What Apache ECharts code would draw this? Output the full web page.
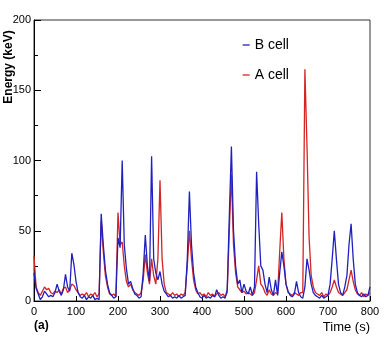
<!DOCTYPE html>
<html style="height: 100%">
<head>
    <meta charset="utf-8">
</head>
<body style="height: 100%; margin: 0; background: #fff">
    <div id="container" style="width: 384px; height: 346px"></div>
    <script type="text/javascript" src="https://cdn.jsdelivr.net/npm/echarts@6/dist/echarts.min.js"></script>
    <script type="text/javascript">
        // sample times (s), one every 5 s
        var times = [];
        for (var t = 0; t <= 800; t += 5) times.push(t);

        // B cell (blue), 20 values per 100 s
        var bCell = [
            20, 9, 5, 1, 3, 7, 5, 3, 4, 3, 6, 12, 7, 4, 8, 19, 10, 7, 34, 26,
            14, 6, 3, 2, 4, 1, 3, 2, 4, 1, 2, 1, 62, 40, 22, 12, 6, 4, 2, 3,
            45, 38, 100, 40, 23, 12, 14, 9, 5, 4, 2, 3, 20, 47, 25, 14, 103, 30, 20, 15,
            21, 12, 7, 5, 3, 4, 2, 3, 2, 4, 2, 3, 4, 30, 78, 40, 20, 10, 6, 3,
            2, 4, 2, 3, 2, 4, 3, 8, 4, 2, 3, 2, 8, 60, 110, 50, 25, 12, 15, 6,
            12, 7, 5, 10, 4, 10, 92, 55, 25, 22, 12, 6, 17, 8, 4, 15, 4, 20, 35, 25,
            12, 7, 4, 3, 5, 14, 6, 3, 2, 10, 30, 22, 12, 6, 4, 3, 2, 4, 2, 3,
            4, 12, 30, 50, 30, 12, 6, 4, 10, 18, 40, 55, 30, 12, 6, 4, 3, 5, 3, 4,
            10
        ];

        // A cell (red)
        var aCell = [
            32, 10, 6, 4, 7, 10, 8, 9, 6, 5, 7, 6, 8, 5, 9, 10, 6, 8, 12, 11,
            8, 6, 4, 5, 4, 6, 3, 5, 4, 6, 3, 5, 57, 35, 18, 10, 5, 4, 5, 3,
            63, 40, 42, 25, 14, 10, 12, 8, 6, 5, 4, 6, 15, 33, 20, 12, 30, 18, 12, 30,
            86, 30, 12, 6, 5, 4, 6, 4, 5, 3, 5, 4, 6, 25, 50, 30, 15, 8, 5, 6,
            4, 5, 3, 6, 4, 5, 3, 5, 6, 4, 5, 3, 6, 50, 90, 40, 20, 10, 8, 6,
            7, 5, 6, 5, 4, 6, 15, 25, 12, 10, 6, 4, 8, 5, 4, 6, 5, 35, 63, 30,
            12, 6, 5, 4, 6, 5, 4, 6, 6, 165, 110, 45, 18, 10, 6, 5, 4, 6, 3, 5,
            4, 6, 10, 15, 10, 6, 5, 4, 6, 8, 15, 22, 14, 8, 5, 4, 6, 3, 5, 4,
            6
        ];

        var xTicks = [0, 100, 200, 300, 400, 500, 600, 700, 800];
        var yTicks = [0, 50, 100, 150, 200];

        function pairs(vals) {
            return times.map(function (t, i) { return [t, vals[i]]; });
        }

        var font = "'Liberation Sans Narrow', 'Liberation Sans', Arial, sans-serif";

        var myChart = echarts.init(document.getElementById('container'));
        var option = {
            animation: false,
            backgroundColor: '#fff',
            grid: {
                left: 34, right: 14, top: 20, bottom: 45,
                show: true, borderColor: '#333', borderWidth: 1
            },
            legend: {
                data: ['B cell', 'A cell'],
                orient: 'vertical',
                left: 237, top: 33,
                itemGap: 16,
                itemWidth: 7, itemHeight: 8,
                itemStyle: { opacity: 0 },
                lineStyle: { width: 1.3 },
                textStyle: { fontFamily: font, fontSize: 14, color: '#000' }
            },
            xAxis: {
                type: 'value',
                min: 0, max: 800, interval: 100,
                axisLine: { lineStyle: { color: '#000' } },
                axisTick: { inside: true, length: 5, lineStyle: { color: '#000' } },
                axisLabel: {
                    fontFamily: font, fontSize: 11, color: '#000', margin: 5,
                    formatter: function (v) { return xTicks.indexOf(v) >= 0 ? v : ''; }
                },
                splitLine: { show: false }
            },
            yAxis: {
                type: 'value',
                min: 0, max: 200, interval: 50,
                axisLine: { show: true, lineStyle: { color: '#000' } },
                axisTick: { inside: true, length: 7, lineStyle: { color: '#000' } },
                minorTick: { show: true, splitNumber: 2, length: 4, lineStyle: { color: '#000' } },
                axisLabel: {
                    fontFamily: font, fontSize: 11, color: '#000', margin: 3,
                    formatter: function (v) { return yTicks.indexOf(v) >= 0 ? v : ''; }
                },
                splitLine: { show: false }
            },
            graphic: [
                {
                    type: 'text', x: 9, y: 67, rotation: Math.PI / 2,
                    style: {
                        text: 'Energy (keV)', fill: '#000',
                        font: 'bold 12px Arial, sans-serif',
                        textAlign: 'center', textVerticalAlign: 'middle'
                    }
                },
                {
                    type: 'text', x: 370, y: 327,
                    style: {
                        text: 'Time (s)', fill: '#000',
                        font: '13px ' + font,
                        textAlign: 'right', textVerticalAlign: 'middle'
                    }
                },
                {
                    type: 'text', x: 34, y: 326,
                    style: {
                        text: '(a)', fill: '#000',
                        font: 'bold 12px Arial, sans-serif',
                        textAlign: 'left', textVerticalAlign: 'middle'
                    }
                }
            ],
            series: [
                {
                    name: 'A cell', type: 'line', symbol: 'none',
                    color: '#d42424',
                    lineStyle: { width: 1.3 },
                    data: pairs(aCell)
                },
                {
                    name: 'B cell', type: 'line', symbol: 'none',
                    color: '#2020c0',
                    lineStyle: { width: 1.3 },
                    data: pairs(bCell)
                }
            ]
        };
        myChart.setOption(option);
    </script>
</body>
</html>
